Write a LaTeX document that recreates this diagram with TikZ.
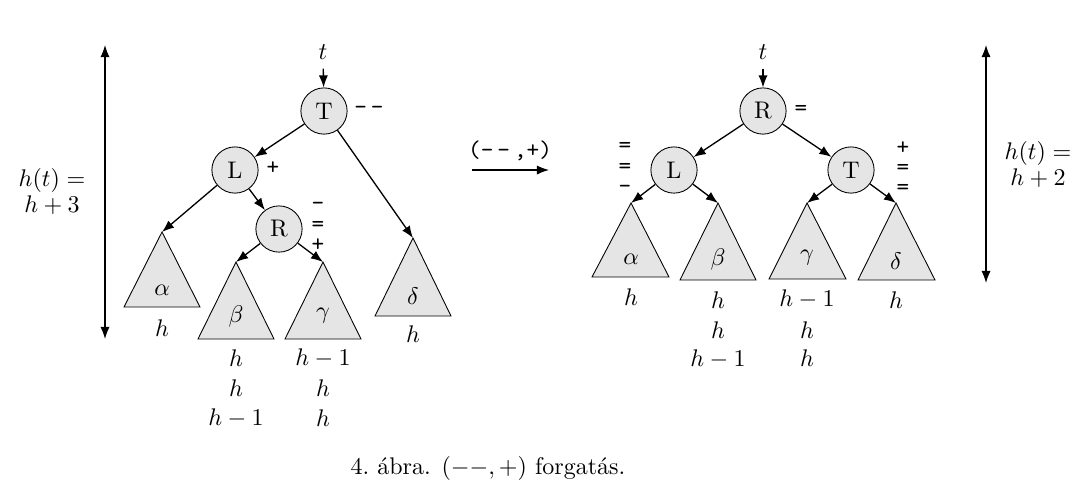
\documentclass[tikz,border=0pt]{standalone}
\usetikzlibrary{arrows.meta}
\begin{document}
\begin{tikzpicture}[x=0.016cm,y=-0.016cm,
  font=\fontsize{10.95}{13.6}\selectfont,
  circ/.style={circle,draw,fill=gray!20,minimum size=0.74cm,inner sep=0pt},
  tri/.style={draw,fill=gray!20},
  arr/.style={-{Latex[length=5.5pt,width=4.2pt]},semithick},
  darr/.style={{Latex[length=5.5pt,width=4.2pt]}-{Latex[length=5.5pt,width=4.2pt]},semithick},
  bal/.style={font=\fontsize{10.95}{9.2}\selectfont\ttfamily,inner sep=0pt,align=center},
  lab/.style={inner sep=0pt}]
\useasboundingbox (0,0) rectangle (1089,489);

% ---------- left tree ----------
\node[lab] (t1) at (323,52) {$t$};
\node[circ] (T1) at (324,111) {T};
\node[circ] (L1) at (235,170) {L};
\node[circ] (R1) at (279,229) {R};
\coordinate (a1) at (162,232);
\coordinate (b1) at (236,262);
\coordinate (g1) at (323,262);
\coordinate (d1) at (413,238);
\draw[tri] (a1) -- ++(-38,75) -- ++(76,0) -- cycle;
\draw[tri] (b1) -- ++(-38,77) -- ++(76,0) -- cycle;
\draw[tri] (g1) -- ++(-38,77) -- ++(76,0) -- cycle;
\draw[tri] (d1) -- ++(-38,78) -- ++(76,0) -- cycle;
\node[lab] (al1) at (162,290) {$\alpha$};
\node[lab] (be1) at (236,316) {$\beta$};
\node[lab] (ga1) at (323,316) {$\gamma$};
\node[lab] (de1) at (413,296) {$\delta$};
\draw[arr,shorten <=4pt] (t1) -- (T1);
\draw[arr] (T1) -- (L1);
\draw[arr] (T1) -- (d1);
\draw[arr] (L1) -- (a1);
\draw[arr] (L1) -- (R1);
\draw[arr] (R1) -- (b1);
\draw[arr] (R1) -- (g1);
\node[bal] (bT1) at (369,110) {-\,-};
\node[bal] (bL1) at (273,168) {+};
\node[bal] (bR1) at (318,227) {-\\=\\+};
\node[lab] (ha1) at (162,328) {$h$};
\node[lab] (hb1a) at (236,358) {$h$};
\node[lab] (hb1b) at (236,388) {$h$};
\node[lab] (hb1c) at (236,418) {$h-1$};
\node[lab] (hg1a) at (323,358) {$h-1$};
\node[lab] (hg1b) at (323,388) {$h$};
\node[lab] (hg1c) at (323,418) {$h$};
\node[lab] (hd1) at (413,334) {$h$};
\coordinate (ht1a) at (105,45);
\coordinate (ht1b) at (105,339);
\draw[darr] (ht1a) -- (ht1b);
\node[lab] (hl1a) at (52,180) {$h(t)=$};
\node[lab] (hl1b) at (52,205) {$h+3$};

% ---------- transformation arrow ----------
\coordinate (m1) at (472,170);
\coordinate (m2) at (549,170);
\draw[arr] (m1) -- (m2);
\node[bal] (ml) at (510,151) {(-\,-\,,+)};

% ---------- right tree ----------
\node[lab] (t2) at (763,52) {$t$};
\node[circ] (R2) at (763,111) {R};
\node[circ] (L2) at (674,170) {L};
\node[circ] (T2) at (851,170) {T};
\coordinate (a2) at (631,203);
\coordinate (b2) at (718,203);
\coordinate (g2) at (807,203);
\coordinate (d2) at (896,203);
\draw[tri] (a2) -- ++(-39,74) -- ++(77,0) -- cycle;
\draw[tri] (b2) -- ++(-38,77) -- ++(76,0) -- cycle;
\draw[tri] (g2) -- ++(-38,76) -- ++(77,0) -- cycle;
\draw[tri] (d2) -- ++(-38,77) -- ++(77,0) -- cycle;
\node[lab] (al2) at (631,259) {$\alpha$};
\node[lab] (be2) at (718,259) {$\beta$};
\node[lab] (ga2) at (807,258) {$\gamma$};
\node[lab] (de2) at (896,261) {$\delta$};
\draw[arr,shorten <=4pt] (t2) -- (R2);
\draw[arr] (R2) -- (L2);
\draw[arr] (R2) -- (T2);
\draw[arr] (L2) -- (a2);
\draw[arr] (L2) -- (b2);
\draw[arr] (T2) -- (g2);
\draw[arr] (T2) -- (d2);
\node[bal] (bR2) at (801,110) {=};
\node[bal] (bL2) at (625,168) {=\\=\\-};
\node[bal] (bT2) at (903,168) {+\\=\\=};
\node[lab] (ha2) at (631,297) {$h$};
\node[lab] (hb2a) at (718,300) {$h$};
\node[lab] (hb2b) at (718,330) {$h$};
\node[lab] (hb2c) at (718,359) {$h-1$};
\node[lab] (hg2a) at (807,299) {$h-1$};
\node[lab] (hg2b) at (807,330) {$h$};
\node[lab] (hg2c) at (807,358) {$h$};
\node[lab] (hd2) at (896,300) {$h$};
\coordinate (ht2a) at (986,45);
\coordinate (ht2b) at (986,283);
\draw[darr] (ht2a) -- (ht2b);
\node[lab] (hl2a) at (1038,153) {$h(t)=$};
\node[lab] (hl2b) at (1038,178) {$h+2$};

% ---------- caption ----------
\node[lab] (cap) at (488,468) {4.~ábra. $(--,+)$ forgatás.};
\end{tikzpicture}
\end{document}
